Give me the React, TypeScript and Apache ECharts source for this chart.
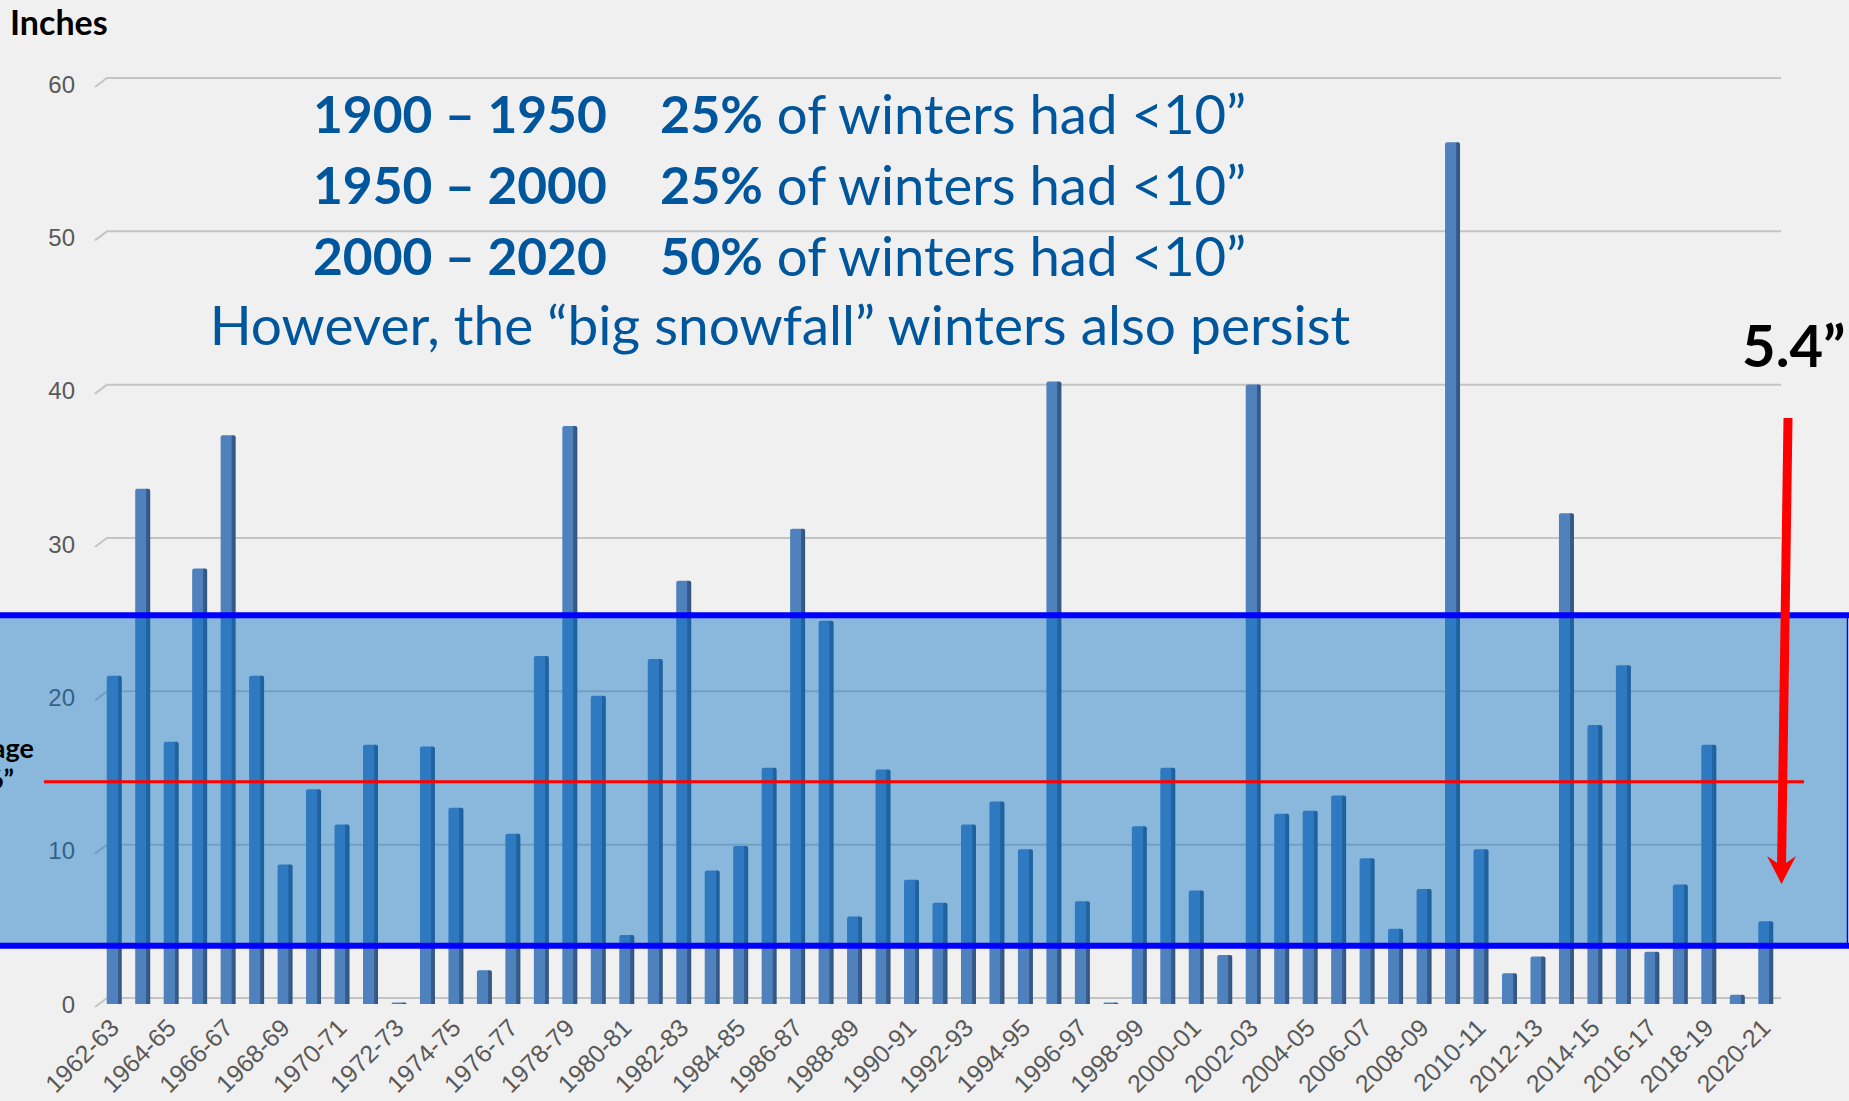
import React, { useEffect, useRef } from "react";
import * as echarts from "echarts";

const categories = [
  "1962-63", "1963-64", "1964-65", "1965-66", "1966-67", "1967-68", "1968-69", "1969-70", "1970-71", "1971-72",
  "1972-73", "1973-74", "1974-75", "1975-76", "1976-77", "1977-78", "1978-79", "1979-80", "1980-81", "1981-82",
  "1982-83", "1983-84", "1984-85", "1985-86", "1986-87", "1987-88", "1988-89", "1989-90", "1990-91", "1991-92",
  "1992-93", "1993-94", "1994-95", "1995-96", "1996-97", "1997-98", "1998-99", "1999-00", "2000-01", "2001-02",
  "2002-03", "2003-04", "2004-05", "2005-06", "2006-07", "2007-08", "2008-09", "2009-10", "2010-11", "2011-12",
  "2012-13", "2013-14", "2014-15", "2015-16", "2016-17", "2017-18", "2018-19", "2019-20", "2020-21",
];

const snowfall = [
  21.4, 33.6, 17.1, 28.4, 37.1, 21.4, 9.1, 14.0, 11.7, 16.9,
  0.1, 16.8, 12.8, 2.2, 11.1, 22.7, 37.7, 20.1, 4.5, 22.5,
  27.6, 8.7, 10.3, 15.4, 31.0, 25.0, 5.7, 15.3, 8.1, 6.6,
  11.7, 13.2, 10.1, 40.6, 6.7, 0.1, 11.6, 15.4, 7.4, 3.2,
  40.4, 12.4, 12.6, 13.6, 9.5, 4.9, 7.5, 56.2, 10.1, 2.0,
  3.1, 32.0, 18.2, 22.1, 3.4, 7.8, 16.9, 0.6, 5.4,
];

const yTicks = [0, 10, 20, 30, 40, 50, 60];
const normalRange = [3.8, 25.35];
const averageSnow = 14.5;

const headlinePeriods = ["1900 – 1950", "1950 – 2000", "2000 – 2020"];
const headlineShares = ["25%", "25%", "50%"];
const headlineTail = " of winters had <10”";
const persistLine = "However, the “big snowfall” winters also persist";
const latestLabel = "5.4”";
const averageLines = ["Average", "14.6”"];

const TEXT_BLUE = "#00569c";
const LATO = "Lato, 'Open Sans', sans-serif";
const AXIS_FONT = "'Liberation Sans', Arial, sans-serif";

export default function App() {
  const ref = useRef<HTMLDivElement>(null);

  useEffect(() => {
    if (!ref.current) return;
    const chart = echarts.init(ref.current, undefined, { renderer: "svg" });
    chart.setOption({
      animation: false,
      backgroundColor: "#f0f0f0",
      grid: {
        left: 100,
        right: 69,
        top: 84,
        bottom: 97,
        containLabel: false,
        outerBoundsMode: "none",
      },
      xAxis: {
        type: "category",
        data: categories,
        boundaryGap: true,
        axisLine: { show: false },
        axisTick: { show: false },
        axisLabel: {
          interval: 1,
          rotate: 45,
          margin: 19,
          fontSize: 25,
          fontFamily: AXIS_FONT,
          color: "#595959",
        },
      },
      yAxis: {
        type: "value",
        min: 0,
        max: 60,
        interval: 10,
        axisLine: { show: false },
        axisTick: { show: false },
        splitLine: { show: false },
        axisLabel: {
          margin: 25,
          fontSize: 24,
          fontFamily: AXIS_FONT,
          color: "#595959",
        },
      },
      series: [
        {
          type: "bar",
          data: snowfall,
          barWidth: 15,
          z: 2,
          itemStyle: {
            borderRadius: [2, 2, 0, 0],
            color: new echarts.graphic.LinearGradient(0, 0, 1, 0, [
              { offset: 0, color: "#4f81bd" },
              { offset: 0.72, color: "#4f81bd" },
              { offset: 0.73, color: "#385f8e" },
              { offset: 1, color: "#30547f" },
            ]),
          },
        },
      ],
    });

    const yPix = (v: number) => chart.convertToPixel({ yAxisIndex: 0 }, v) as number;

    const graphics: any[] = [];
    yTicks.forEach((t) => {
      const p = yPix(t);
      graphics.push({
        type: "polyline",
        z: -1,
        silent: true,
        shape: { points: [[95, p + 3], [107, p - 6], [1781, p - 6]] },
        style: { stroke: "#c4c4c4", lineWidth: 2, fill: null },
      });
    });

    const bandTop = yPix(normalRange[1]);
    const bandBottom = yPix(normalRange[0]);
    graphics.push({
      type: "rect",
      z: 10,
      silent: true,
      shape: { x: 0, y: bandTop, width: 1847, height: bandBottom - bandTop },
      style: { fill: "rgba(3,112,194,0.43)" },
    });
    graphics.push({
      type: "line",
      z: 12,
      silent: true,
      shape: { x1: 1847.5, y1: bandTop, x2: 1847.5, y2: bandBottom },
      style: { stroke: "#0000ff", lineWidth: 1.5 },
    });
    const avgY = yPix(averageSnow);
    graphics.push({
      type: "line",
      z: 11,
      silent: true,
      shape: { x1: 44, y1: avgY, x2: 1804, y2: avgY },
      style: { stroke: "#ff0000", lineWidth: 3 },
    });
    [bandTop, bandBottom].forEach((y) => {
      graphics.push({
        type: "line",
        z: 12,
        silent: true,
        shape: { x1: 0, y1: y, x2: 1849, y2: y },
        style: { stroke: "#0000ff", lineWidth: 6 },
      });
    });

    // Arrow
    graphics.push({
      type: "line",
      z: 13,
      silent: true,
      shape: { x1: 1788, y1: 418, x2: 1781.5, y2: 868 },
      style: { stroke: "#ff0000", lineWidth: 9 },
    });
    graphics.push({
      type: "polygon",
      z: 13,
      silent: true,
      shape: { points: [[1781.5, 884], [1767, 856], [1780, 865], [1783, 865], [1796, 856]] },
      style: { fill: "#ff0000" },
    });

    // Texts
    graphics.push({
      type: "text",
      z: 14,
      x: 10,
      y: 21,
      style: {
        text: "Inches",
        fontFamily: LATO,
        fontWeight: "bold",
        fontSize: 34,
        fill: "#000",
        verticalAlign: "middle",
      },
    });
    headlinePeriods.forEach((period, i) => {
      const y = 113 + 71 * i;
      graphics.push({
        type: "text",
        z: 14,
        x: 313,
        y,
        style: {
          text: period,
          fontFamily: LATO,
          fontWeight: "bold",
          fontSize: 51.5,
          fill: TEXT_BLUE,
          verticalAlign: "middle",
        },
      });
      graphics.push({
        type: "text",
        z: 14,
        x: 660,
        y,
        style: {
          text: `{b|${headlineShares[i]}}{n|${headlineTail}}`,
          verticalAlign: "middle",
          rich: {
            b: { fontFamily: LATO, fontWeight: "bold", fontSize: 52, fill: TEXT_BLUE, color: TEXT_BLUE },
            n: { fontFamily: LATO, fontWeight: "normal", fontSize: 54.5, fill: TEXT_BLUE, color: TEXT_BLUE },
          },
        },
      });
    });
    graphics.push({
      type: "text",
      z: 14,
      x: 780,
      y: 324,
      style: {
        text: persistLine,
        fontFamily: LATO,
        fontSize: 55,
        fill: TEXT_BLUE,
        align: "center",
        verticalAlign: "middle",
      },
    });
    graphics.push({
      type: "text",
      z: 14,
      x: 1742,
      y: 344,
      style: {
        text: latestLabel,
        fontFamily: LATO,
        fontWeight: "bold",
        fontSize: 58,
        fill: "#000",
        verticalAlign: "middle",
      },
    });
    graphics.push({
      type: "text",
      z: 14,
      x: 34,
      y: 747,
      style: {
        text: averageLines[0],
        fontFamily: LATO,
        fontWeight: "bold",
        fontSize: 27,
        fill: "#000",
        align: "right",
        verticalAlign: "middle",
      },
    });
    graphics.push({
      type: "text",
      z: 14,
      x: 14,
      y: 778,
      style: {
        text: averageLines[1],
        fontFamily: LATO,
        fontWeight: "bold",
        fontSize: 27,
        fill: "#000",
        align: "right",
        verticalAlign: "middle",
      },
    });

    chart.setOption({ graphic: { elements: graphics } });

    return () => chart.dispose();
  }, []);

  return (
    <div
      ref={ref}
      style={{ position: "absolute", left: 0, top: 0, width: 1849, height: 1101, background: "#f0f0f0" }}
    />
  );
}
